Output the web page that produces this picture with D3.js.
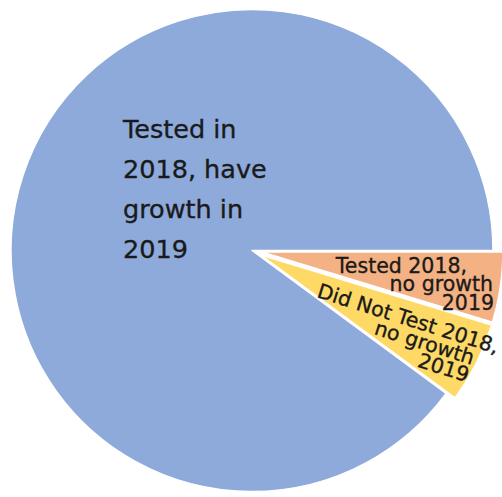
<!DOCTYPE html>
<html>
<head>
<meta charset="utf-8">
<script src="https://cdn.jsdelivr.net/npm/d3@7"></script>
<style>
  html, body { margin: 0; padding: 0; background: #ffffff; }
  svg { display: block; }
  text { font-family: "DejaVu Sans", sans-serif; fill: #1a1a1a; stroke: #1a1a1a; stroke-width: 0.35px; }
</style>
</head>
<body>
<svg id="chart" width="502" height="497"></svg>
<script>
// ---- data ----
const categories = [
  "Tested in 2018, have growth in 2019",
  "Tested 2018, no growth 2019",
  "Did Not Test 2018, no growth 2019"
];
const values = [89.9, 4.7, 5.4];
const labelLines = [
  ["Tested in", "2018, have", "growth in", "2019"],
  ["Tested 2018,", "no growth", "2019"],
  ["Did Not Test 2018,", "no growth", "2019"]
];

// ---- styles / layout ----
const colors = ["#8eaadb", "#f4b183", "#ffd966"];
const explode = [0, 10, 10];
const W = 502, H = 497;
const cx = 252, cy = 250.5, R = 241;
const svg = d3.select("#chart");

const total = d3.sum(values);
const blueSpan = values[0] / total * 2 * Math.PI;
const start = Math.PI / 2 - blueSpan; // blue ends exactly at 3 o'clock
const pie = d3.pie().sort(null).value(d => d)
  .startAngle(start).endAngle(start + 2 * Math.PI);
const arcs = pie(values);
const arc = d3.arc().innerRadius(0).outerRadius(R);

const g = svg.append("g").attr("transform", `translate(${cx},${cy})`);
g.selectAll("path").data(arcs).join("path")
  .attr("d", arc)
  .attr("fill", (d, i) => colors[i])
  .attr("stroke", "#ffffff")
  .attr("stroke-width", 1.5)
  .attr("stroke-linejoin", "round")
  .attr("transform", (d, i) => {
    const a = (d.startAngle + d.endAngle) / 2;
    const dx = Math.sin(a) * explode[i];
    const dy = -Math.cos(a) * explode[i];
    return `translate(${dx},${dy})`;
  });

// ---- labels ----
// big slice label
const big = svg.append("text").attr("font-size", 25.5);
labelLines[0].forEach((t, k) => {
  big.append("tspan").attr("x", 123).attr("y", 138 + k * 40).text(t);
});

// orange slice label (right aligned)
const orangePos = [[467, 273], [493, 291], [494, 310]];
const ot = svg.append("text").attr("font-size", 20.5).attr("text-anchor", "end");
labelLines[1].forEach((t, k) => {
  ot.append("tspan").attr("x", orangePos[k][0]).attr("y", orangePos[k][1]).text(t);
});

// yellow slice label (rotated)
const yg = svg.append("g").attr("transform", "translate(316,297) rotate(17.5)");
const yPos = [[0, 0, "start"], [169, 18, "end"], [169, 36, "end"]];
labelLines[2].forEach((t, k) => {
  yg.append("text").attr("font-size", 20.5)
    .attr("x", yPos[k][0]).attr("y", yPos[k][1])
    .attr("text-anchor", yPos[k][2]).text(t);
});
</script>
</body>
</html>
